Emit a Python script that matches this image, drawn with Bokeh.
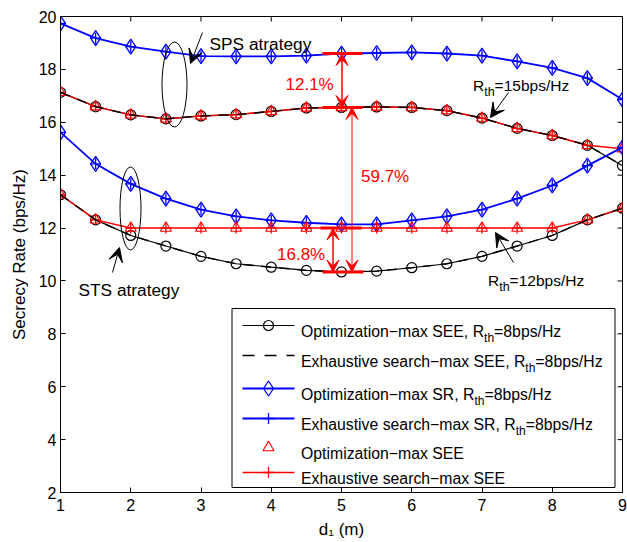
from bokeh.plotting import figure
from bokeh.models import Range1d, FixedTicker, Arrow, VeeHead
from bokeh.core.properties import value
from bokeh.embed import file_html
from bokeh.resources import INLINE

# ---- data -----------------------------------------------------------------
d1 = [1, 1.5, 2, 2.5, 3, 3.5, 4, 4.5, 5, 5.5, 6, 6.5, 7, 7.5, 8, 8.5, 9]

# SPS strategy
sps_sr_rth8 = [19.74, 19.18, 18.86, 18.67, 18.50, 18.49, 18.49, 18.52, 18.60,
               18.62, 18.64, 18.60, 18.52, 18.30, 18.06, 17.67, 16.86]
sps_see_rth8 = [17.13, 16.59, 16.28, 16.13, 16.24, 16.29, 16.41, 16.54, 16.56,
                16.58, 16.56, 16.44, 16.16, 15.77, 15.50, 15.13, 14.36]
sps_see_rth15 = [17.13, 16.59, 16.28, 16.13, 16.24, 16.29, 16.41, 16.54, 16.56,
                 16.58, 16.56, 16.44, 16.16, 15.77, 15.50, 15.13, 15.00]

# STS strategy
sts_sr_rth8 = [15.62, 14.43, 13.67, 13.11, 12.70, 12.44, 12.29, 12.20, 12.14,
               12.14, 12.29, 12.44, 12.70, 13.11, 13.61, 14.36, 15.05]
sts_see_rth8 = [13.26, 12.31, 11.72, 11.32, 10.93, 10.65, 10.52, 10.40, 10.34,
                10.37, 10.50, 10.65, 10.93, 11.32, 11.72, 12.31, 12.75]
sts_see_rth12 = [13.26, 12.31, 12.00, 12.00, 12.00, 12.00, 12.00, 12.00, 12.00,
                 12.00, 12.00, 12.00, 12.00, 12.00, 12.00, 12.31, 12.75]

x_ticks = [1, 2, 3, 4, 5, 6, 7, 8, 9]
y_ticks = [2, 4, 6, 8, 10, 12, 14, 16, 18, 20]

legend_labels = [
    ("Optimization\u2212max SEE, R", "th", "=8bps/Hz"),
    ("Exhaustive search\u2212max SEE, R", "th", "=8bps/Hz"),
    ("Optimization\u2212max SR, R", "th", "=8bps/Hz"),
    ("Exhaustive search\u2212max SR, R", "th", "=8bps/Hz"),
    ("Optimization\u2212max SEE", "", ""),
    ("Exhaustive search\u2212max SEE", "", ""),
]

# ---- layout ---------------------------------------------------------------
W_PX, H_PX = 627, 542
LEFT, RIGHT, TOP, BOTTOM = 60, 5, 16, 50
FW = W_PX - LEFT - RIGHT
FH = H_PX - TOP - BOTTOM
XMIN, XMAX, YMIN, YMAX = 1, 9, 2, 20
FONT = "Liberation Sans"
BLUE, RED = "#0000ff", "#ff0000"
DASH = "10 8"


def X(px):
    """canvas pixel column -> data x"""
    return XMIN + (px - LEFT) * (XMAX - XMIN) / FW


def Y(py):
    """canvas pixel row -> data y"""
    return YMAX - (py - TOP) * (YMAX - YMIN) / FH


# Arial/Helvetica advance widths (em) for the glyphs used in labels
ADV = {'O': .778, 'p': .556, 't': .278, 'i': .222, 'm': .833, 'z': .5, 'a': .556,
       'o': .556, 'n': .556, '\u2212': .584, 'x': .5, ' ': .278, 'S': .667,
       'E': .667, ',': .278, 'R': .722, 'h': .556, 'u': .556, 's': .5, 'v': .5,
       'e': .556, 'r': .333, 'c': .5}


def text_width(s, size):
    return sum(ADV.get(c, .556) for c in s) * size


p = figure(width=W_PX, height=H_PX, output_backend="svg", toolbar_location=None,
           x_range=Range1d(XMIN, XMAX), y_range=Range1d(YMIN, YMAX),
           min_border_left=LEFT, min_border_right=RIGHT,
           min_border_top=TOP, min_border_bottom=BOTTOM)
p.background_fill_color = "white"
p.border_fill_color = "white"
p.outline_line_color = "black"
p.outline_line_width = 1
p.xgrid.visible = False
p.ygrid.visible = False

for ax in (p.xaxis[0], p.yaxis[0]):
    ax.major_tick_in = 5
    ax.major_tick_out = 0
    ax.minor_tick_in = 0
    ax.minor_tick_out = 0
    ax.axis_line_color = "black"
    ax.major_tick_line_color = "black"
    ax.major_label_text_font = FONT
    ax.major_label_text_font_size = "16px"
    ax.major_label_text_color = "black"
    ax.axis_label_text_font = FONT
    ax.axis_label_text_font_size = "17px"
    ax.axis_label_text_font_style = "normal"
    ax.axis_label_text_color = "black"

p.xaxis.ticker = FixedTicker(ticks=x_ticks)
p.yaxis.ticker = FixedTicker(ticks=y_ticks)
p.xaxis.major_label_standoff = 6
p.yaxis.major_label_standoff = 4
p.xaxis.axis_label = "d\u2081 (m)"
p.yaxis.axis_label = "Secrecy Rate (bps/Hz)"
p.xaxis.axis_label_standoff = 6
p.yaxis.axis_label_standoff = 7

# inward ticks on the top and right edges of the box
tick_dx = 5 * (XMAX - XMIN) / FW
tick_dy = 5 * (YMAX - YMIN) / FH
p.segment(x0=x_ticks, y0=[YMAX] * len(x_ticks), x1=x_ticks,
          y1=[YMAX - tick_dy] * len(x_ticks), line_color="black", line_width=1)
p.segment(x0=[XMAX] * len(y_ticks), y0=y_ticks, x1=[XMAX - tick_dx] * len(y_ticks),
          y1=y_ticks, line_color="black", line_width=1)

# ---- curves ---------------------------------------------------------------
for see8, see_th, sr8 in ((sps_see_rth8, sps_see_rth15, sps_sr_rth8),
                          (sts_see_rth8, sts_see_rth12, sts_sr_rth8)):
    # optimization, max SEE, R_th = 8
    p.line(d1, see8, line_color="black", line_width=1.2)
    p.scatter(d1, see8, marker="circle", size=10, fill_color=None,
              line_color="black", line_width=1.2)
    # max SR (optimization and exhaustive search)
    p.line(d1, sr8, line_color=BLUE, line_width=1.8)
    p.scatter(d1, sr8, marker="diamond", size=15, fill_color=None,
              line_color=BLUE, line_width=1.3)
    p.scatter(d1, sr8, marker="cross", size=11, line_color=BLUE, line_width=1.3)
    # max SEE with the rate threshold
    p.scatter(d1, see_th, marker="triangle", size=11, fill_color=None,
              line_color=RED, line_width=1.1)
    p.line(d1, see_th, line_color=RED, line_width=1.4)
    p.scatter(d1, see_th, marker="cross", size=11, line_color=RED, line_width=1.3)
    # exhaustive search, max SEE, R_th = 8
    p.line(d1, see8, line_color="black", line_width=1.4, line_dash=DASH)


# ---- text helpers ---------------------------------------------------------
def put_text(x, y, s, size, color="black", x_off=0, y_off=0):
    p.text(x=[x], y=[y], text=[s], x_offset=x_off, y_offset=y_off,
           text_font=value(FONT), text_font_size=f"{size}px", text_color=color,
           text_align="left", text_baseline="alphabetic")


def put_rth(x, y, head, tail, size, sub_size, color="black"):
    """text of the form  head + subscript 'th' + tail"""
    put_text(x, y, head, size, color)
    w = text_width(head, size)
    put_text(x, y, "th", sub_size, color, x_off=w, y_off=6)
    put_text(x, y, tail, size, color, x_off=w + text_width("th", sub_size))


# ---- strategy annotations ------------------------------------------------
p.ellipse(x=[X(174)], y=[Y(84)], width=[25 * (XMAX - XMIN) / FW],
          height=[85 * (YMAX - YMIN) / FH], fill_color=None,
          line_color="black", line_width=1)
p.ellipse(x=[X(130)], y=[Y(208)], width=[21 * (XMAX - XMIN) / FW],
          height=[83 * (YMAX - YMIN) / FH], fill_color=None,
          line_color="black", line_width=1)

put_text(X(209), Y(43), "SPS atrategy", 17.3)
put_text(X(78), Y(289), "STS atrategy", 17.3)
put_rth(X(472.5), Y(85), "R", "=15bps/Hz", 15.5, 12.5)
put_rth(X(487.5), Y(280), "R", "=12bps/Hz", 15.5, 12.5)


def black_arrow(x0, y0, x1, y1):
    p.add_layout(Arrow(x_start=x0, y_start=y0, x_end=x1, y_end=y1,
                       line_color="black", line_width=1,
                       end=VeeHead(size=14, fill_color="black",
                                   line_color="black", line_width=1)))


black_arrow(X(202), Y(32), X(190), Y(63))
black_arrow(X(112), Y(272), X(119), Y(247))
black_arrow(X(508), Y(92), X(490), Y(117))
black_arrow(X(513), Y(262), X(495), Y(232))

# ---- gap annotations at d1 = 5 -----------------------------------------
i5 = d1.index(5)


def red_span(x, y_top, y_bot, lw):
    p.add_layout(Arrow(x_start=x, y_start=y_top, x_end=x, y_end=y_bot,
                       line_color=RED, line_width=lw,
                       start=VeeHead(size=12, fill_color=RED, line_color=RED,
                                     line_width=1),
                       end=VeeHead(size=12, fill_color=RED, line_color=RED,
                                   line_width=1)))


def red_bar(y, px0, px1):
    p.segment(x0=[X(px0)], y0=[y], x1=[X(px1)], y1=[y], line_color=RED,
              line_width=3)


red_bar(sps_sr_rth8[i5], 322, 362)
red_bar(sps_see_rth15[i5], 322, 362)
red_bar(sts_see_rth12[i5], 320, 361)
red_bar(sts_see_rth8[i5], 322, 363)

red_span(X(341.5), sps_sr_rth8[i5], sps_see_rth15[i5], 1.5)
red_span(X(351.5), sps_see_rth15[i5], sts_see_rth8[i5], 1)
red_span(X(332.5), sts_see_rth12[i5], sts_see_rth8[i5], 1.5)

put_text(X(285), Y(83.5), "12.1%", 17, RED)
put_text(X(360.5), Y(175.5), "59.7%", 17, RED)
put_text(X(276.5), Y(253.5), "16.8%", 17, RED)

# ---- legend ---------------------------------------------------------------
LX0, LX1, LY0, LY1 = 231.5, 614.5, 308, 487
p.quad(left=[X(LX0)], right=[X(LX1)], top=[Y(LY0)], bottom=[Y(LY1)],
       fill_color="white", line_color="black", line_width=1)

row_y = [325, 355, 388, 418, 447, 472]
sx0, sx1, sxm, tx = 242, 294, 268, 300.5
styles = [
    dict(line=dict(line_color="black", line_width=1.2),
         mk=[dict(marker="circle", size=10, fill_color=None, line_color="black", line_width=1.2)]),
    dict(line=dict(line_color="black", line_width=1.4, line_dash="12 10"), mk=[]),
    dict(line=dict(line_color=BLUE, line_width=1.8),
         mk=[dict(marker="diamond", size=15, fill_color=None, line_color=BLUE, line_width=1.3)]),
    dict(line=dict(line_color=BLUE, line_width=1.8),
         mk=[dict(marker="cross", size=11, line_color=BLUE, line_width=1.3)]),
    dict(line=None,
         mk=[dict(marker="triangle", size=11, fill_color=None, line_color=RED, line_width=1.1)]),
    dict(line=dict(line_color=RED, line_width=1.4),
         mk=[dict(marker="cross", size=11, line_color=RED, line_width=1.3)]),
]
for ry, st, (head, sub, tail) in zip(row_y, styles, legend_labels):
    if st["line"] is not None:
        p.segment(x0=[X(sx0)], y0=[Y(ry)], x1=[X(sx1)], y1=[Y(ry)], **st["line"])
    for mk in st["mk"]:
        p.scatter([X(sxm)], [Y(ry)], **mk)
    if sub:
        put_rth(X(tx), Y(ry + 6), head, tail, 15.8, 12)
    else:
        put_text(X(tx), Y(ry + 6), head, 15.8)

open("out.html", "w").write(file_html(p, INLINE))
